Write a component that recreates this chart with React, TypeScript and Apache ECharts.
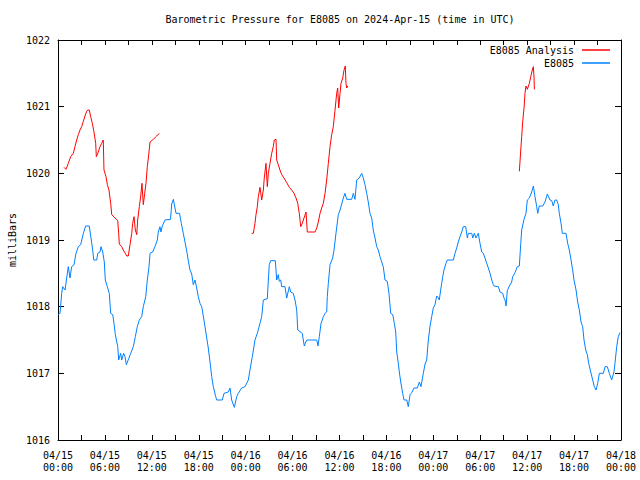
import React, { useEffect, useRef } from "react";
import * as echarts from "echarts";

const titleText = "Barometric Pressure for E8085 on 2024-Apr-15 (time in UTC)";
const yAxisName = "milliBars";
const xTickLabels = [
  "04/15\n00:00", "04/15\n06:00", "04/15\n12:00", "04/15\n18:00",
  "04/16\n00:00", "04/16\n06:00", "04/16\n12:00", "04/16\n18:00",
  "04/17\n00:00", "04/17\n06:00", "04/17\n12:00", "04/17\n18:00",
  "04/18\n00:00",
];

// hours since 04/15 00:00 UTC
const stationHours = [
  0, 0.26, 0.47, 0.6, 0.9, 1.11, 1.32, 1.53, 1.75, 2.05, 2.3, 2.6, 2.9, 3.24, 3.54, 4.0, 4.22, 4.44, 4.57, 4.95,
  5.08, 5.37, 5.5, 5.72, 5.92, 6.05, 6.3, 6.56, 6.74, 7.0, 7.16, 7.33, 7.64, 7.76, 8.02, 8.15, 8.4, 8.57, 8.74, 9.04,
  9.3, 9.63, 9.89, 10.14, 10.4, 10.7, 10.91, 11.22, 11.42, 11.64, 11.77, 12.11, 12.4, 12.7, 12.83, 13.04, 13.17, 13.34, 13.68, 14.39,
  14.54, 14.75, 14.96, 15.09, 15.54, 15.77, 16.02, 16.24, 16.5, 16.69, 16.88, 17.1, 17.3, 17.52, 17.74, 17.94, 18.16, 18.38, 18.58, 18.8,
  19.02, 19.22, 19.44, 19.66, 19.86, 20.17, 20.3, 21.01, 21.23, 21.78, 22.0, 22.21, 22.55, 22.85, 23.06, 23.49, 23.92, 24.34, 24.55, 24.85,
  25.19, 25.49, 25.83, 26.05, 26.26, 26.77, 26.9, 27.02, 27.2, 27.79, 27.97, 28.17, 28.3, 28.48, 28.61, 29.03, 29.25, 29.58, 29.76, 30.09,
  30.31, 30.53, 30.66, 31.24, 31.37, 31.5, 31.68, 31.84, 33.09, 33.25, 33.42, 33.64, 33.8, 33.93, 34.15, 34.36, 34.44, 34.57, 34.79, 35.13,
  35.3, 35.55, 35.85, 36.07, 36.28, 36.49, 36.7, 36.92, 37.56, 37.77, 37.98, 38.2, 38.53, 38.84, 39.04, 39.26, 39.48, 39.68, 39.9, 40.12,
  40.32, 40.54, 40.76, 40.96, 41.18, 41.4, 41.6, 41.82, 42.11, 42.33, 42.55, 42.81, 43.01, 43.19, 43.32, 43.52, 43.65, 43.83, 44.08, 44.25,
  44.6, 44.8, 45.02, 45.24, 45.53, 45.95, 46.21, 46.42, 46.72, 46.94, 47.15, 47.36, 47.58, 47.79, 48.0, 48.21, 48.43, 48.64, 48.76, 48.94,
  49.07, 49.2, 49.36, 49.62, 49.79, 50.56, 50.77, 50.99, 51.19, 51.41, 51.63, 51.83, 52.14, 52.35, 52.47, 52.91, 53.04, 53.24, 53.46, 53.75,
  53.97, 54.19, 54.39, 54.61, 54.83, 55.03, 55.25, 55.47, 55.67, 55.76, 56.31, 56.53, 56.87, 57.04, 57.17, 57.3, 57.46, 57.72, 58.02, 58.15,
  58.45, 58.74, 59.0, 59.18, 59.3, 59.6, 59.85, 60.02, 60.28, 60.58, 60.79, 61.0, 61.22, 61.35, 61.55, 61.99, 62.28, 62.58, 62.92, 63.14,
  63.34, 63.56, 63.78, 63.98, 64.11, 64.33, 64.5, 64.97, 65.18, 65.39, 65.61, 65.82, 65.99, 66.25, 66.46, 66.67, 66.89, 67.1, 67.27, 67.49,
  67.69, 67.87, 68.13, 68.38, 68.59, 68.81, 69.02, 69.23, 69.74, 69.96, 70.25, 70.51, 70.81, 71.1, 71.23, 71.45, 71.65, 71.87,
];
const stationValues = [
  1017.88, 1017.9, 1018.2, 1018.3, 1018.25, 1018.43, 1018.6, 1018.43, 1018.6, 1018.63, 1018.8, 1018.9, 1018.93, 1019.1, 1019.21, 1019.21, 1019.03, 1018.85, 1018.7, 1018.7,
  1018.8, 1018.82, 1018.9, 1018.82, 1018.67, 1018.4, 1018.3, 1018.2, 1017.9, 1017.88, 1017.75, 1017.58, 1017.4, 1017.2, 1017.3, 1017.2, 1017.3, 1017.25, 1017.13, 1017.22,
  1017.3, 1017.4, 1017.55, 1017.7, 1017.8, 1017.85, 1018.0, 1018.15, 1018.4, 1018.6, 1018.8, 1018.82, 1018.9, 1019.0, 1019.12, 1019.2, 1019.12, 1019.21, 1019.3, 1019.31,
  1019.54, 1019.61, 1019.48, 1019.4, 1019.4, 1019.25, 1019.1, 1018.97, 1018.81, 1018.67, 1018.55, 1018.49, 1018.33, 1018.4, 1018.28, 1018.15, 1018.05, 1018.0, 1017.86, 1017.7,
  1017.53, 1017.38, 1017.17, 1016.95, 1016.8, 1016.65, 1016.6, 1016.6, 1016.7, 1016.72, 1016.78, 1016.6, 1016.49, 1016.65, 1016.7, 1016.78, 1016.8, 1016.9, 1017.05, 1017.25,
  1017.5, 1017.6, 1017.75, 1017.85, 1018.1, 1018.12, 1018.4, 1018.63, 1018.69, 1018.69, 1018.4, 1018.48, 1018.38, 1018.4, 1018.3, 1018.3, 1018.13, 1018.3, 1018.22, 1018.2,
  1018.1, 1017.95, 1017.65, 1017.6, 1017.5, 1017.41, 1017.47, 1017.5, 1017.5, 1017.41, 1017.55, 1017.75, 1017.8, 1017.85, 1017.9, 1017.92, 1018.15, 1018.35, 1018.63, 1018.73,
  1018.85, 1019.1, 1019.38, 1019.45, 1019.54, 1019.63, 1019.7, 1019.61, 1019.61, 1019.7, 1019.61, 1019.9, 1019.93, 1020.0, 1019.93, 1019.83, 1019.7, 1019.57, 1019.4, 1019.33,
  1019.15, 1019.03, 1018.9, 1018.85, 1018.75, 1018.67, 1018.6, 1018.4, 1018.38, 1018.2, 1017.9, 1017.88, 1017.75, 1017.62, 1017.32, 1017.15, 1017.02, 1016.87, 1016.7, 1016.6,
  1016.6, 1016.5, 1016.68, 1016.71, 1016.78, 1016.78, 1016.87, 1016.8, 1017.0, 1017.14, 1017.2, 1017.5, 1017.71, 1017.85, 1017.98, 1018.03, 1018.16, 1018.13, 1018.1, 1018.25,
  1018.35, 1018.45, 1018.55, 1018.65, 1018.7, 1018.7, 1018.8, 1018.88, 1018.97, 1019.05, 1019.12, 1019.2, 1019.2, 1019.03, 1019.1, 1019.1, 1019.03, 1019.1, 1019.03, 1019.1,
  1018.95, 1018.82, 1018.8, 1018.73, 1018.65, 1018.58, 1018.5, 1018.4, 1018.33, 1018.31, 1018.3, 1018.22, 1018.2, 1018.13, 1018.1, 1018.01, 1018.24, 1018.31, 1018.37, 1018.45,
  1018.51, 1018.6, 1018.61, 1018.95, 1019.15, 1019.31, 1019.4, 1019.6, 1019.63, 1019.72, 1019.81, 1019.65, 1019.5, 1019.4, 1019.51, 1019.51, 1019.57, 1019.69, 1019.6, 1019.59,
  1019.51, 1019.6, 1019.6, 1019.53, 1019.4, 1019.25, 1019.1, 1019.1, 1018.95, 1018.85, 1018.7, 1018.55, 1018.4, 1018.25, 1018.07, 1017.95, 1017.77, 1017.7, 1017.5, 1017.35,
  1017.28, 1017.15, 1017.02, 1016.9, 1016.8, 1016.75, 1016.85, 1017.0, 1017.0, 1017.1, 1017.1, 1017.0, 1016.9, 1017.02, 1017.15, 1017.4, 1017.55, 1017.61,
];

// null marks a gap in the analysis series
const analysisHours = [
  0.77, 1.02, 1.32, 1.62, 1.96, 2.17, 2.39, 2.6, 2.81, 3.03, 3.24, 3.45, 3.67, 3.8, 4.0, 4.18, 4.39, 4.6, 4.82, 4.9,
  5.15, 5.37, 5.59, 5.79, 5.88, 6.14, 6.31, 6.52, 6.74, 6.87, 7.29, 7.64, 7.76, 7.84, 8.15, 8.35, 8.61, 8.79, 8.99, 9.21,
  9.43, 9.55, 9.72, 9.89, 10.07, 10.19, 10.4, 10.58, 10.74, 10.91, 11.09, 11.25, 11.42, 11.6, 11.77, 12.19, 12.62, 12.96,
  13.0,
  24.77, 24.98, 25.19, 25.32, 25.49, 25.62, 25.83, 26.05, 26.26, 26.38, 26.6, 26.77, 26.9, 27.11, 27.33, 27.53, 27.66, 27.88, 27.97, 28.17,
  28.39, 28.61, 28.9, 29.25, 29.58, 29.89, 30.18, 30.44, 30.66, 30.86, 31.04, 31.24, 31.46, 31.72, 31.88, 32.87, 33.09, 33.29, 33.51, 33.72,
  33.93, 34.15, 34.36, 34.57, 34.79, 35.0, 35.21, 35.43, 35.64, 35.77, 35.9, 36.07, 36.19, 36.41, 36.58, 36.74, 36.83, 36.92, 37.05,
  37.1,
  59.0, 59.18, 59.3, 59.43, 59.6, 59.72, 59.85, 60.02, 60.28, 60.46, 60.66, 60.79, 60.88, 60.92,
];
const analysisValues = [
  1020.09, 1020.06, 1020.15, 1020.25, 1020.3, 1020.4, 1020.5, 1020.58, 1020.65, 1020.7, 1020.78, 1020.86, 1020.93, 1020.95, 1020.95, 1020.85, 1020.75, 1020.62, 1020.45, 1020.25,
  1020.32, 1020.4, 1020.45, 1020.5, 1020.05, 1019.95, 1019.83, 1019.75, 1019.55, 1019.38, 1019.33, 1019.29, 1019.1, 1018.94, 1018.9, 1018.85, 1018.8, 1018.76, 1018.76, 1018.93,
  1019.1, 1019.25, 1019.35, 1019.15, 1019.08, 1019.3, 1019.5, 1019.66, 1019.85, 1019.53, 1019.7, 1019.85, 1020.1, 1020.28, 1020.47, 1020.51, 1020.56, 1020.6,
  null,
  1019.1, 1019.1, 1019.25, 1019.38, 1019.5, 1019.65, 1019.79, 1019.6, 1019.75, 1019.93, 1020.15, 1019.8, 1020.0, 1020.15, 1020.3, 1020.4, 1020.5, 1020.51, 1020.2, 1020.13,
  1020.05, 1019.98, 1019.93, 1019.86, 1019.79, 1019.75, 1019.7, 1019.63, 1019.55, 1019.4, 1019.2, 1019.25, 1019.33, 1019.42, 1019.12, 1019.12, 1019.18, 1019.27, 1019.4, 1019.48,
  1019.55, 1019.7, 1019.9, 1020.15, 1020.4, 1020.58, 1020.7, 1020.95, 1021.2, 1021.28, 1020.98, 1021.2, 1021.35, 1021.43, 1021.55, 1021.61, 1021.35, 1021.28, 1021.31,
  null,
  1020.03, 1020.35, 1020.55, 1020.78, 1020.98, 1021.2, 1021.31, 1021.26, 1021.35, 1021.45, 1021.55, 1021.6, 1021.43, 1021.26,
];

const FONT = "'DejaVu Sans Mono', 'Liberation Mono', monospace";

export default function App() {
  const ref = useRef<HTMLDivElement>(null);
  useEffect(() => {
    if (!ref.current) return;
    const chart = echarts.init(ref.current, null, { renderer: "svg" });
    const stationData = stationHours.map((h, i) => [h, stationValues[i]]);
    const analysisData = analysisHours.map((h, i) => [h, analysisValues[i] === null ? "-" : analysisValues[i]]);
    const commonX = {
      type: "value" as const,
      min: 0,
      max: 72,
      interval: 6,
      splitLine: { show: false },
      axisLine: { show: true, onZero: false, lineStyle: { color: "#000", width: 1 } },
      axisTick: { show: true, inside: true, length: 5, lineStyle: { color: "#000" } },
      minorTick: { show: true, splitNumber: 2, length: 5, lineStyle: { color: "#000" } },
    };
    const commonY = {
      type: "value" as const,
      min: 1016,
      max: 1022,
      interval: 1,
      splitLine: { show: false },
      axisLine: { show: true, onZero: false, lineStyle: { color: "#000", width: 1 } },
      axisTick: { show: true, inside: true, length: 6, lineStyle: { color: "#000" } },
    };
    chart.setOption({
      animation: false,
      backgroundColor: "#fff",
      textStyle: { fontFamily: FONT },
      grid: { left: 58, right: 19, top: 40, bottom: 40, containLabel: false, outerBoundsMode: "none" },
      graphic: [
        {
          type: "text",
          x: 340,
          y: 19,
          style: {
            text: titleText,
            fill: "#000",
            font: `10px ${FONT}`,
            textAlign: "center",
            textVerticalAlign: "middle",
          },
        },
      ],
      legend: {
        orient: "vertical",
        right: 30,
        top: 44,
        padding: 0,
        align: "right",
        itemWidth: 28,
        itemHeight: 1.5,
        itemGap: 1,
        textStyle: { fontFamily: FONT, fontSize: 10, color: "#000", lineHeight: 12, padding: [0, 3, 0, 0] },
        data: [
          { name: "E8085 Analysis", icon: "rect" },
          { name: "E8085", icon: "rect" },
        ],
      },
      xAxis: [
        {
          ...commonX,
          position: "bottom",
          axisLabel: {
            show: true,
            color: "#000",
            fontFamily: FONT,
            fontSize: 10,
            lineHeight: 12,
            margin: 9,
            formatter: (v: number) => xTickLabels[Math.round(v / 6)] ?? "",
          },
        },
        { ...commonX, position: "top", axisLabel: { show: false } },
      ],
      yAxis: [
        {
          ...commonY,
          position: "left",
          name: yAxisName,
          nameLocation: "middle",
          nameGap: 41,
          nameMoveOverlap: false,
          nameTextStyle: { fontFamily: FONT, fontSize: 10, color: "#000" },
          axisLabel: {
            show: true,
            color: "#000",
            fontFamily: FONT,
            fontSize: 10,
            margin: 8,
            formatter: (v: number) => String(v),
          },
        },
        { ...commonY, position: "right", axisLabel: { show: false } },
      ],
      series: [
        {
          name: "E8085 Analysis",
          type: "line",
          data: analysisData,
          showSymbol: false,
          symbol: "none",
          connectNulls: false,
          lineStyle: { color: "#ff0000", width: 1 },
          itemStyle: { color: "#ff0000" },
        },
        {
          name: "E8085",
          type: "line",
          data: stationData,
          showSymbol: false,
          symbol: "none",
          lineStyle: { color: "#0080ff", width: 1 },
          itemStyle: { color: "#0080ff" },
        },
      ],
    });
    return () => chart.dispose();
  }, []);
  return <div ref={ref} style={{ position: "absolute", left: 0, top: 0, width: 640, height: 480 }} />;
}
